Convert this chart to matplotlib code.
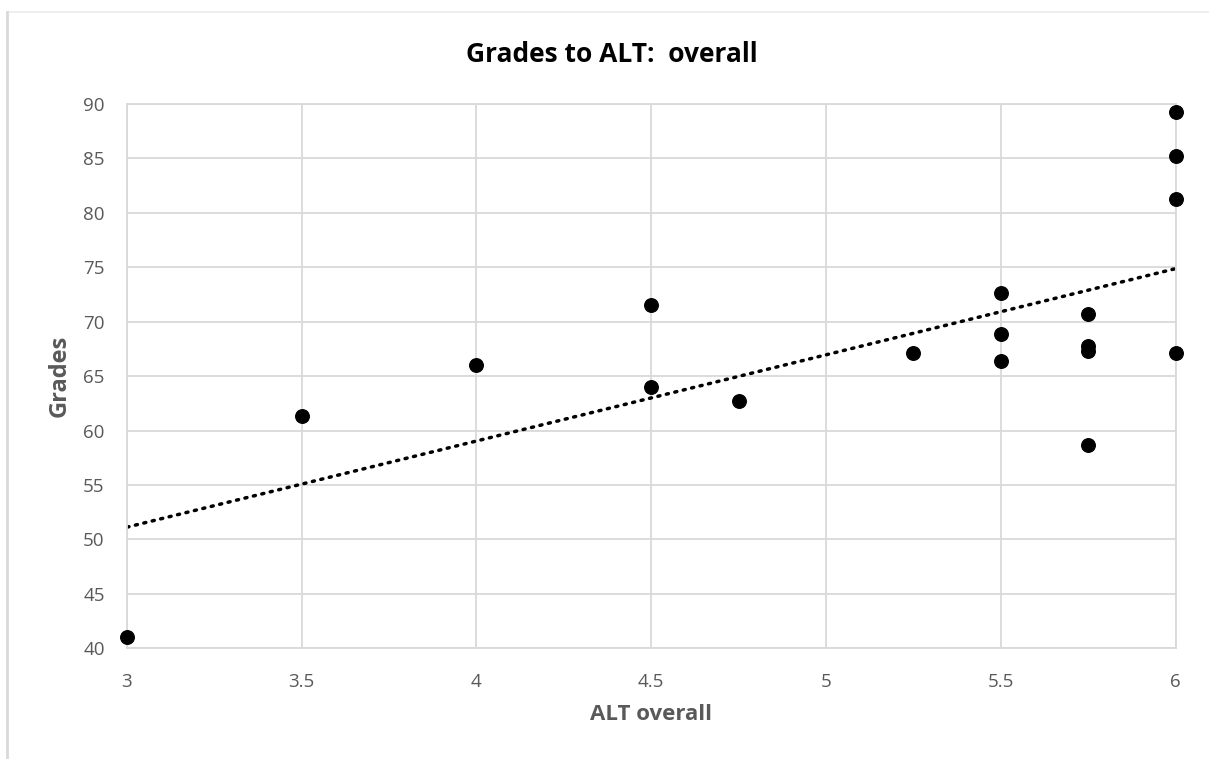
import matplotlib.pyplot as plt
import numpy as np
from matplotlib.lines import Line2D

plt.rcParams['font.family'] = ['Open Sans', 'DejaVu Sans']

# ALT overall score and grade for each student
alt_overall = [3, 3.5, 4, 4.5, 4.5, 4.75, 5.25, 5.5, 5.5, 5.5,
               5.75, 5.75, 5.75, 5.75, 6, 6, 6, 6]
grades = [41.0, 61.3, 66.0, 71.5, 64.0, 62.7, 67.1, 72.6, 68.9, 66.4,
          70.7, 67.8, 67.3, 58.7, 89.3, 85.2, 81.3, 67.1]

x_ticks = [3, 3.5, 4, 4.5, 5, 5.5, 6]
x_tick_labels = ['3', '3.5', '4', '4.5', '5', '5.5', '6']
y_ticks = [40, 45, 50, 55, 60, 65, 70, 75, 80, 85, 90]

grey = '#595959'
grid_grey = '#d9d9d9'

fig = plt.figure(figsize=(12.09, 7.59), dpi=100)
ax = fig.add_axes([0.105, 0.146, 0.8673, 0.717])

x = np.array(alt_overall)
y = np.array(grades)

# linear trendline
slope, intercept = np.polyfit(x, y, 1)
xs = np.array([min(x_ticks), max(x_ticks)])
ax.plot(xs, slope * xs + intercept, color='black', linestyle=(0, (0.6, 1.9)),
        linewidth=2.5, dash_capstyle='round', zorder=2)

ax.scatter(x, y, s=95, color='black', zorder=3, clip_on=False)

ax.set_xlim(3, 6)
ax.set_ylim(40, 90)
ax.set_xticks(x_ticks)
ax.set_xticklabels(x_tick_labels)
ax.set_yticks(y_ticks)
ax.grid(True, color=grid_grey, linewidth=1.3)
ax.set_axisbelow(True)
for side in ax.spines.values():
    side.set_color(grid_grey)
    side.set_linewidth(1.3)
ax.tick_params(length=0, labelsize=13.5, labelcolor=grey)
ax.tick_params(axis='x', pad=18)
ax.tick_params(axis='y', pad=16)

# title is centred on the whole chart area, not the plot area
fig.text(612 / 1209, 1 - 55 / 759, 'Grades to ALT:  overall', fontsize=19,
         fontweight='bold', color='black', ha='center', va='center')
ax.set_xlabel('ALT overall', fontsize=16, fontweight='bold', color=grey,
              labelpad=9)
ax.set_ylabel('Grades', fontsize=17, fontweight='bold', color=grey,
              labelpad=8)

# chart area frame: top and left edge
fig.add_artist(Line2D([0.0055, 1.0], [1 - 12 / 759, 1 - 12 / 759],
                      transform=fig.transFigure, color='#ebebeb', linewidth=1.2))
fig.add_artist(Line2D([0.0055, 0.0055], [0.0, 1 - 12 / 759],
                      transform=fig.transFigure, color='#d9d9d9', linewidth=2))

plt.savefig('out.png', dpi=100)
